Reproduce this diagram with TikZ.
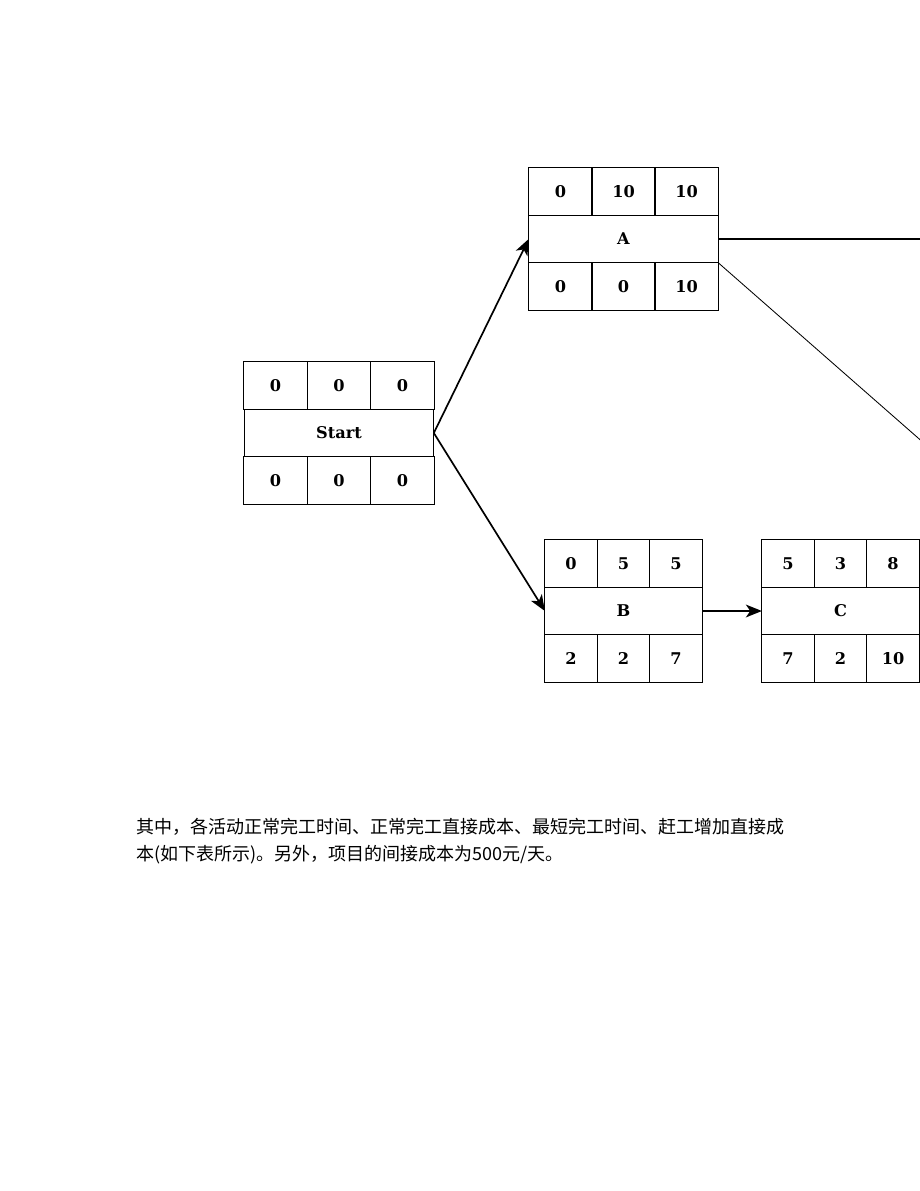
\documentclass[tikz,border=0pt]{standalone}
\usepackage{fontspec}
\setmainfont{DejaVu Serif}
\newfontfamily\cjk{Noto Sans CJK SC}
\usetikzlibrary{arrows.meta}

\tikzset{
  cell/.style={draw=black, line width=0.6pt, inner sep=0pt, outer sep=0pt, minimum height=1.19cm, font=\bfseries\fontsize{11.5}{13}\selectfont, align=center},
  widecell/.style={cell, minimum width=1.58cm},
  widename/.style={cell, minimum width=4.74cm},
  slimcell/.style={cell, minimum width=1.31cm},
  slimname/.style={cell, minimum width=3.93cm},
  link/.style={line width=1.2pt, -{Stealth[length=4mm, width=3.2mm, inset=1.1mm]}},
}

\begin{document}
\begin{tikzpicture}[x=0.025cm, y=-0.025cm]

\clip (0, 0) rectangle (920, 1191);

% Start
\node (Start-es) [widecell] at (275.5, 385.5) {0};
\node (Start-d)  [widecell] at (339, 385.5) {0};
\node (Start-ef) [widecell] at (402.5, 385.5) {0};
\node (Start-name) [widename] at (339, 433) {Start};
\node (Start-ls) [widecell] at (275.5, 480.5) {0};
\node (Start-tf) [widecell] at (339, 480.5) {0};
\node (Start-lf) [widecell] at (402.5, 480.5) {0};

% A
\node (A-es) [widecell] at (560.5, 191.5) {0};
\node (A-d)  [widecell] at (623.5, 191.5) {10};
\node (A-ef) [widecell] at (686.5, 191.5) {10};
\node (A-name) [widename] at (623.5, 239) {A};
\node (A-ls) [widecell] at (560.5, 286.5) {0};
\node (A-tf) [widecell] at (623.5, 286.5) {0};
\node (A-lf) [widecell] at (686.5, 286.5) {10};

% B
\node (B-es) [slimcell] at (571, 563.5) {0};
\node (B-d)  [slimcell] at (623.5, 563.5) {5};
\node (B-ef) [slimcell] at (676, 563.5) {5};
\node (B-name) [slimname] at (623.5, 611) {B};
\node (B-ls) [slimcell] at (571, 658.5) {2};
\node (B-tf) [slimcell] at (623.5, 658.5) {2};
\node (B-lf) [slimcell] at (676, 658.5) {7};

% C
\node (C-es) [slimcell] at (788, 563.5) {5};
\node (C-d)  [slimcell] at (840.5, 563.5) {3};
\node (C-ef) [slimcell] at (893, 563.5) {8};
\node (C-name) [slimname] at (840.5, 611) {C};
\node (C-ls) [slimcell] at (788, 658.5) {7};
\node (C-tf) [slimcell] at (840.5, 658.5) {2};
\node (C-lf) [slimcell] at (893, 658.5) {10};

% ends beyond the page edge
\coordinate (outA) at (960, 239);
\coordinate (outAslant) at (966, 480);
\coordinate (outC) at (960, 611);

\draw[link] (Start-name.east) -- (A-name.west);
\draw[link] (Start-name.east) -- (B-name.west);
\draw[link] (B-name.east) -- (C-name.west);
\draw[line width=1.2pt] (A-name.east) -- (outA);
\draw[line width=0.6pt] (A-name.south east) -- (outAslant);
\draw[line width=1.2pt] (C-name.east) -- (outC);

\node (note) [anchor=north west, inner sep=0pt, align=left, font=\cjk\fontsize{12.8}{19.2}\selectfont] at (136, 818) {其中，各活动正常完工时间、正常完工直接成本、最短完工时间、赶工增加直接成\\本(如下表所示)。另外，项目的间接成本为500元/天。};

\end{tikzpicture}
\end{document}
